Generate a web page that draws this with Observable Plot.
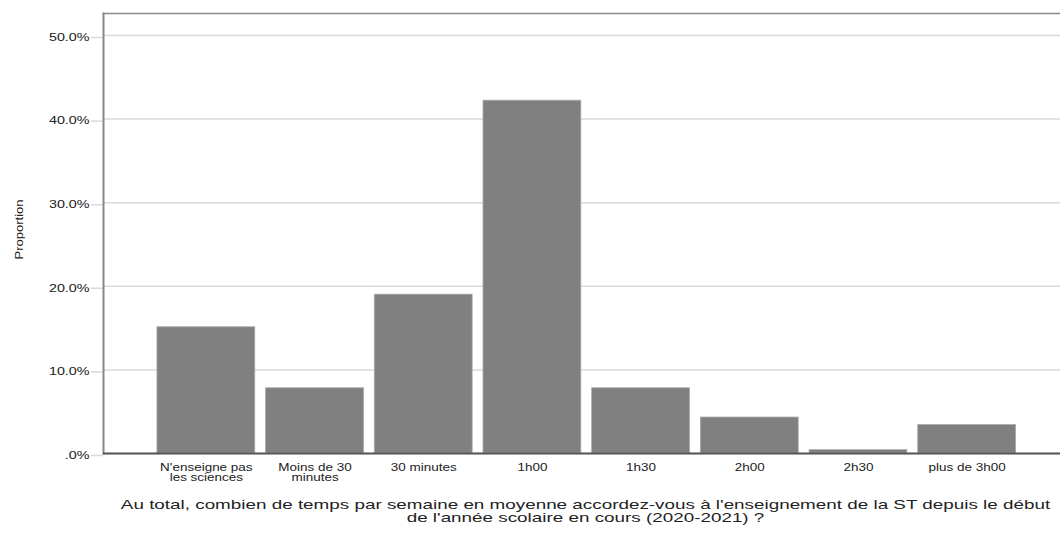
<!DOCTYPE html>
<html>
<head>
<meta charset="utf-8">
<script src="https://cdn.jsdelivr.net/npm/d3@7"></script>
<script src="https://cdn.jsdelivr.net/npm/@observablehq/plot@0.6"></script>
<style>
  html, body { margin: 0; padding: 0; background: #fff; }
  #chart { width: 1060px; height: 533px; }
</style>
</head>
<body>
<div id="chart"></div>
<script>
// ---- data ----
const categories = ["N'enseigne pas les sciences", "Moins de 30 minutes", "30 minutes", "1h00", "1h30", "2h00", "2h30", "plus de 3h00"];
const categoryLabels = ["N'enseigne pas\nles sciences", "Moins de 30\nminutes", "30 minutes", "1h00", "1h30", "2h00", "2h30", "plus de 3h00"];
const percentages = [15.1, 7.8, 19.0, 42.2, 7.8, 4.3, 0.4, 3.4];
const yTicks = [0, 10, 20, 30, 40, 50];
const yTickLabels = [".0%", "10.0%", "20.0%", "30.0%", "40.0%", "50.0%"];
const yTitle = "Proportion";
const xTitle = "Au total, combien de temps par semaine en moyenne accordez-vous à l'enseignement de la ST depuis le début\nde l'année scolaire en cours (2020-2021) ?";

const table = categories.map((c, i) => ({cat: c, value: percentages[i]}));
const labelOf = new Map(categories.map((c, i) => [c, categoryLabels[i]]));
const yLabelOf = new Map(yTicks.map((t, i) => [t, yTickLabels[i]]));

const chart = Plot.plot({
  width: 1060,
  height: 533,
  marginLeft: 103,
  marginRight: 0,
  marginTop: 13,
  marginBottom: 80,
  style: {fontFamily: "'Liberation Sans', Arial, sans-serif", fontSize: "10px", color: "#222", background: "#fff"},
  x: {domain: categories, range: [151.5, 1021], paddingInner: 0.1, paddingOuter: 0.05, round: false, axis: null},
  y: {domain: [0, 52.63], axis: null},
  marks: [
    Plot.gridY(yTicks, {stroke: "#d9d9d9", strokeOpacity: 1, strokeWidth: 1.5}),
    Plot.axisY(yTicks, {
      tickSize: 12, tickPadding: 2, stroke: "#d9d9d9", strokeOpacity: 1, strokeWidth: 1.5,
      tickFormat: d => yLabelOf.get(d), fontSize: 10.6, fill: "#222", dy: 2, label: null
    }),
    Plot.barY(table, {x: "cat", y: "value", fill: "#808080", stroke: "#a8a8a8", strokeWidth: 0.8}),
    Plot.frame({anchor: "top", stroke: "#8a8a8a", strokeWidth: 1.5}),
    Plot.frame({anchor: "left", stroke: "#888", strokeWidth: 2}),
    Plot.ruleY([0], {stroke: "#555", strokeWidth: 2}),
    Plot.axisX({
      tickSize: 0, tickPadding: 10, tickFormat: d => labelOf.get(d),
      fontSize: 10, lineHeight: 1.0, fill: "#222", label: null
    }),
    Plot.text([yTitle], {frameAnchor: "left", textAnchor: "middle", rotate: -90, dx: -84, dy: -4, fontSize: 11.5, fill: "#222"}),
    Plot.text([xTitle], {frameAnchor: "bottom", lineAnchor: "top", dy: 46, dx: 3.5, fontSize: 13, lineHeight: 1.0, fill: "#222"})
  ]
});

// widen glyphs along the text direction (the reference uses a wide sans rendering)
chart.querySelectorAll("text").forEach(t => {
  const tr = t.getAttribute("transform");
  if (!tr) return;
  const txt = t.textContent;
  const s = txt.startsWith("Au total") ? 1.45 : txt === yTitle ? 1.13 : 1.35;
  t.setAttribute("transform", tr + ` scale(${s},1)`);
});

document.getElementById("chart").appendChild(chart);
</script>
</body>
</html>
